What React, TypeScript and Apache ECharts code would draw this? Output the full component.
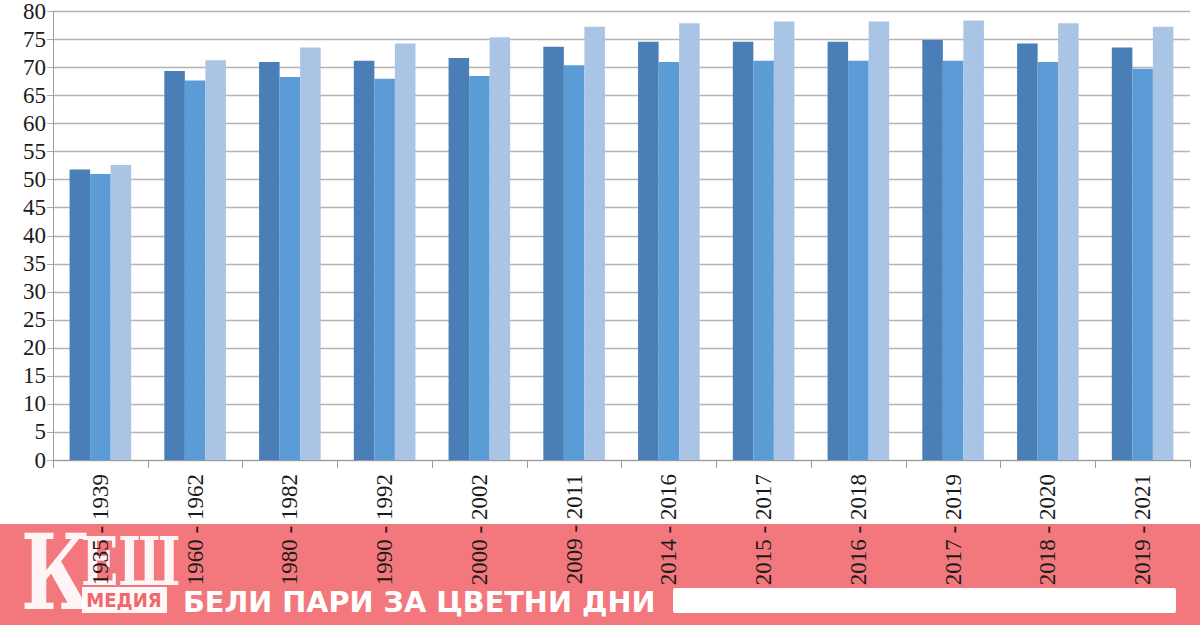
import React, { useEffect, useRef } from "react";
import * as echarts from "echarts";

const categories = [
  "1935 - 1939",
  "1960 - 1962",
  "1980 - 1982",
  "1990 - 1992",
  "2000 - 2002",
  "2009 - 2011",
  "2014 - 2016",
  "2015 - 2017",
  "2016 - 2018",
  "2017 - 2019",
  "2018 - 2020",
  "2019 - 2021",
];
const seriesTotal = [51.8, 69.4, 71.0, 71.2, 71.7, 73.7, 74.6, 74.6, 74.6, 74.9, 74.3, 73.6];
const seriesMen = [51.0, 67.7, 68.3, 68.0, 68.5, 70.4, 71.0, 71.2, 71.2, 71.2, 71.0, 69.8];
const seriesWomen = [52.6, 71.3, 73.6, 74.3, 75.4, 77.3, 77.9, 78.2, 78.2, 78.4, 77.9, 77.3];
const bannerTagline = "БЕЛИ ПАРИ ЗА ЦВЕТНИ ДНИ";

export default function App() {
  const ref = useRef<HTMLDivElement>(null);
  useEffect(() => {
    if (!ref.current) return;
    const chart = echarts.init(ref.current, undefined, { renderer: "svg" });
    const serif = '"Times New Roman", "Liberation Serif", serif';
    const barCommon = { type: "bar" as const, barGap: "0%", barCategoryGap: "35%" };
    chart.setOption({
      animation: false,
      backgroundColor: "#ffffff",
      grid: { left: 53, right: 10, top: 8, bottom: 165, containLabel: false },
      xAxis: {
        type: "category",
        data: categories,
        axisLine: { show: true, lineStyle: { color: "#9a9a9a", width: 1 } },
        axisTick: { show: true, length: 8, alignWithLabel: false, lineStyle: { color: "#9a9a9a" } },
        axisLabel: {
          rotate: 90,
          interval: 0,
          margin: 14,
          fontFamily: serif,
          fontSize: 23,
          color: "#1a1a1a",
        },
      },
      yAxis: {
        type: "value",
        min: 0,
        max: 80,
        interval: 5,
        axisLine: { show: true, lineStyle: { color: "#9a9a9a", width: 1 } },
        axisTick: { show: true, length: 6, lineStyle: { color: "#aaaaaa" } },
        axisLabel: { fontFamily: serif, fontSize: 23, color: "#1a1a1a", margin: 7 },
        splitLine: { show: true, lineStyle: { color: "#b4b4b4", width: 1.3 } },
      },
      series: [
        { ...barCommon, name: "total", data: seriesTotal, itemStyle: { color: "#4a7eb6" } },
        { ...barCommon, name: "men", data: seriesMen, itemStyle: { color: "#5b9bd6" } },
        { ...barCommon, name: "women", data: seriesWomen, itemStyle: { color: "#aac4e6" } },
      ],
      graphic: [
        {
          type: "group",
          z: 100,
          children: [
            {
              type: "rect",
              shape: { x: 0, y: 524, width: 1200, height: 101 },
              style: { fill: "rgba(235,30,38,0.6)" },
            },
            {
              type: "text",
              x: 21,
              y: 573,
              scaleX: 0.74,
              style: {
                text: "К",
                fill: "rgba(255,255,255,0.93)",
                font: "900 104px DejaVu Serif",
                verticalAlign: "middle",
              },
            },
            {
              type: "text",
              x: 81,
              y: 561,
              scaleX: 0.72,
              style: {
                text: "ЕШ",
                fill: "rgba(255,255,255,0.93)",
                font: "bold 68px DejaVu Serif",
                verticalAlign: "middle",
              },
            },
            {
              type: "rect",
              shape: { x: 82, y: 587, width: 85, height: 26 },
              style: { fill: "rgba(255,255,255,0.95)" },
            },
            {
              type: "text",
              x: 124,
              y: 600,
              style: {
                text: "МЕДИЯ",
                fill: "#f0686e",
                font: "bold 19px DejaVu Sans",
                align: "center",
                verticalAlign: "middle",
              },
              scaleX: 0.95,
            },
            {
              type: "text",
              x: 183,
              y: 602,
              scaleX: 0.99,
              style: {
                text: bannerTagline,
                fill: "#ffffff",
                font: "bold 29px DejaVu Sans",
                verticalAlign: "middle",
              },
            },
            {
              type: "rect",
              shape: { x: 673, y: 588, width: 503, height: 25, r: 2 },
              style: { fill: "#ffffff" },
            },
          ],
        },
      ],
    });
    return () => chart.dispose();
  }, []);
  return (
    <div
      ref={ref}
      style={{ position: "absolute", left: 0, top: 0, width: 1200, height: 625 }}
    />
  );
}
